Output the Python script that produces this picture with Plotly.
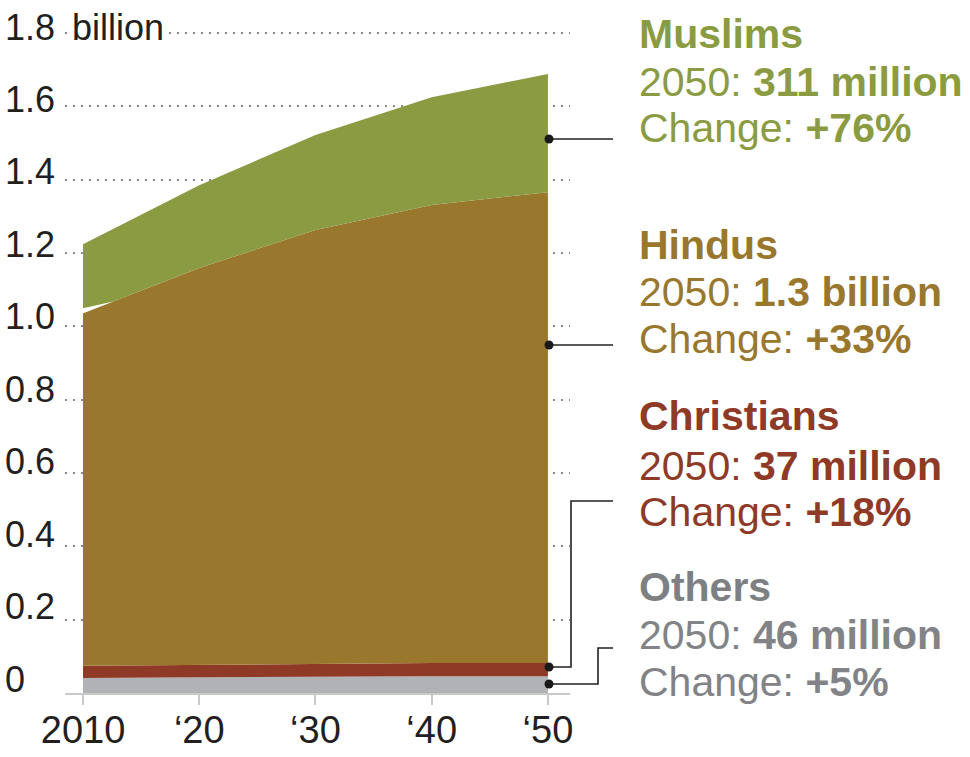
import plotly.graph_objects as go

# population by religion in India, billions
years = [2010, 2020, 2030, 2040, 2050]
others = [0.041, 0.043, 0.045, 0.046, 0.046]
christians = [0.033, 0.034, 0.035, 0.036, 0.036]
hindus = [0.962, 1.082, 1.183, 1.249, 1.284]
muslims = [0.188, 0.226, 0.259, 0.294, 0.322]

y_ticks = [0, 0.2, 0.4, 0.6, 0.8, 1.0, 1.2, 1.4, 1.6, 1.8]
y_labels = ["0", "0.2", "0.4", "0.6", "0.8", "1.0", "1.2", "1.4", "1.6", "1.8"]
x_labels = ["2010", "\u201820", "\u201830", "\u201840", "\u201850"]

names = ["Muslims", "Hindus", "Christians", "Others"]
value_2050 = ["311 million", "1.3 billion", "37 million", "46 million"]
change = ["+76%", "+33%", "+18%", "+5%"]

GREEN = "#8b9b42"
BROWN = "#99772d"
RED = "#8e3a26"
GREY = "#b1b2b6"
TEXT_GREY = "#818386"
FONT = "Liberation Sans, Arial, sans-serif"

# page geometry (pixels); body margin is removed in the page below
WIDTH, HEIGHT = 970, 757
ML, MT = 65, 15
MR = WIDTH - 570
MB = HEIGHT - 693
PW = WIDTH - ML - MR
PH = HEIGHT - MT - MB


def px(x):
    return (x - ML) / PW


def py(y):
    return (HEIGHT - MB - y) / PH


fig = go.Figure()
fig.add_trace(go.Scatter(x=years, y=others, stackgroup="a", mode="lines",
                         line=dict(width=0), fillcolor=GREY))
fig.add_trace(go.Scatter(x=years, y=christians, stackgroup="a", mode="lines",
                         line=dict(width=0), fillcolor=RED))
fig.add_trace(go.Scatter(x=years, y=hindus, stackgroup="a", mode="lines",
                         line=dict(width=0), fillcolor=BROWN))
fig.add_trace(go.Scatter(x=years, y=muslims, stackgroup="a", mode="lines",
                         line=dict(width=0), fillcolor=GREEN))

# small white notch between Hindus and Muslims at the 2010 edge
top = [o + c + h for o, c, h in zip(others, christians, hindus)]
gap = 0.013
taper = 2.6
notch = (f"M 2010,{top[0]} L 2010,{top[0] + gap} "
         f"L {2010 + taper},{top[0] + (top[1] - top[0]) * taper / 10} Z")

annotations = []
# left aligned y labels, sitting a little above their gridline
for v, t in zip(y_ticks, y_labels):
    annotations.append(dict(x=px(3), xref="paper", y=v, yref="y", text=t,
                            xanchor="left", yanchor="middle",
                            yshift=6 + 8 * (1.8 - v) / 1.8,
                            showarrow=False,
                            font=dict(family=FONT, size=36, color="#231f20")))
annotations.append(dict(x=px(70), xref="paper", y=1.8, yref="y", text="billion",
                        xanchor="left", yanchor="middle", yshift=6,
                        showarrow=False, bgcolor="white",
                        font=dict(family=FONT, size=36, color="#231f20")))

# right side labels
colors = [GREEN, BROWN, RED, TEXT_GREY]
head_colors = [GREEN, BROWN, RED, "#7d7f82"]
line_y = [(34, 82, 128), (245, 292, 339), (416, 466, 512), (587, 635, 682)]
for i in range(4):
    rows = [
        (f"<b>{names[i]}</b>", head_colors[i]),
        (f"2050: <b>{value_2050[i]}</b>", colors[i]),
        (f"Change: <b>{change[i]}</b>", colors[i]),
    ]
    for (txt, c), yy in zip(rows, line_y[i]):
        annotations.append(dict(x=px(637), xref="paper", y=py(yy), yref="paper",
                                text=txt, xanchor="left", yanchor="middle",
                                showarrow=False,
                                font=dict(family=FONT, size=41, color=c)))

# leader lines and dots
shapes = [dict(type="path", path=notch, xref="x", yref="y",
               fillcolor="white", line=dict(width=0))]
leaders = [
    [(549, 139), (613, 139)],
    [(549, 345), (613, 345)],
    [(549, 667), (571, 667), (571, 501), (613, 501)],
    [(549, 684), (598, 684), (598, 648), (613, 648)],
]
for pts in leaders:
    path = "M " + " L ".join(f"{px(a):.5f},{py(b):.5f}" for a, b in pts)
    shapes.append(dict(type="path", path=path, xref="paper", yref="paper",
                       line=dict(color="#222222", width=1.6)))
    cx, cy = pts[0]
    shapes.append(dict(type="circle", xref="paper", yref="paper",
                       x0=px(cx - 4.5), x1=px(cx + 4.5),
                       y0=py(cy + 4.5), y1=py(cy - 4.5),
                       fillcolor="#1a1a1a", line=dict(width=0)))

fig.update_layout(
    width=WIDTH, height=HEIGHT,
    margin=dict(l=ML, r=MR, t=MT, b=MB, pad=0, autoexpand=False),
    paper_bgcolor="white", plot_bgcolor="white",
    showlegend=False,
    font=dict(family=FONT),
    annotations=annotations,
    shapes=shapes,
    xaxis=dict(range=[2008.45, 2051.9], tickvals=years, ticktext=x_labels,
               automargin=False,
               showgrid=False, zeroline=False, showline=True,
               linecolor="#c9c9c9", linewidth=1.5,
               ticks="outside", ticklen=10, tickwidth=1.5, tickcolor="#c9c9c9",
               ticklabelstandoff=-7,
               tickfont=dict(family=FONT, size=38, color="#231f20"),
               fixedrange=True),
    yaxis=dict(range=[0, 1.8 + 18 / 366.7], tickvals=y_ticks[1:],
               showticklabels=False, automargin=False,
               ticks="", showgrid=True, gridcolor="#8a8a8a", gridwidth=2,
               griddash="2px,6px", zeroline=False, showline=False,
               fixedrange=True),
)

fig.write_html("out.html", config={"displayModeBar": False},
               post_script="document.body.style.margin='0px';")
